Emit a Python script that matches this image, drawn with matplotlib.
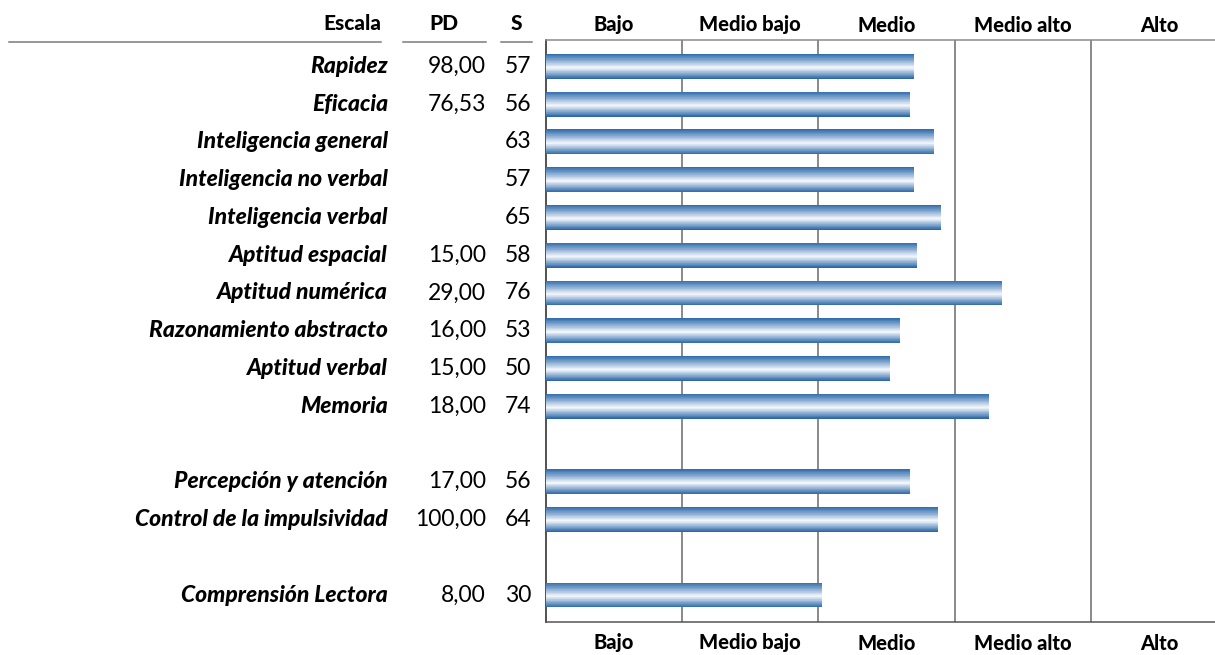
import matplotlib
matplotlib.use("Agg")
import matplotlib.pyplot as plt
import numpy as np
from matplotlib.colors import LinearSegmentedColormap
from matplotlib.lines import Line2D
from matplotlib.transforms import blended_transform_factory

plt.rcParams['font.family'] = ['Lato', 'DejaVu Sans']

# data
escalas = ['Rapidez', 'Eficacia', 'Inteligencia general', 'Inteligencia no verbal',
           'Inteligencia verbal', 'Aptitud espacial', 'Aptitud numérica',
           'Razonamiento abstracto', 'Aptitud verbal', 'Memoria',
           'Percepción y atención', 'Control de la impulsividad', 'Comprensión Lectora']
pd_scores = [98.00, 76.53, None, None, None, 15.00, 29.00, 16.00, 15.00, 18.00,
             17.00, 100.00, 8.00]
s_scores = [57, 56, 63, 57, 65, 58, 76, 53, 50, 74, 56, 64, 30]
gap_after = [9, 11]  # blank row after these items
niveles = ['Bajo', 'Medio bajo', 'Medio', 'Medio alto', 'Alto']
limites = [0, 10, 29, 69, 89, 100]  # S value at each level boundary


def fwd(x):
    return np.interp(x, limites, np.arange(len(limites)))


def inv(p):
    return np.interp(p, np.arange(len(limites)), limites)


def row_positions(n, gaps):
    pos = []
    offset = 0
    for i in range(n):
        pos.append(i + offset)
        if i in gaps:
            offset += 1
    return pos


def gradient_barh(ax, y, width, height, cmap, nstrips=40):
    edges = np.linspace(y - height / 2, y + height / 2, nstrips + 1)
    for k in range(nstrips):
        ax.barh(edges[k], width, height=edges[k + 1] - edges[k], left=0,
                align='edge', color=cmap((k + 0.5) / nstrips), linewidth=0, zorder=3)


def main():
    W, H = 1215, 655
    fig = plt.figure(figsize=(W / 100, H / 100), dpi=100)
    ax = fig.add_axes([546 / W, 1 - 622 / H, (1227 - 546) / W, (622 - 40) / H])

    ys = row_positions(len(escalas), gap_after)
    nrows = ys[-1] + 1

    ax.set_xscale('function', functions=(fwd, inv))
    ax.set_xlim(limites[0], limites[-1])
    ax.set_ylim(nrows - 1 + 0.715, -0.70)

    cmap = LinearSegmentedColormap.from_list(
        'tubo', [(0, '#2f6cab'), (0.25, '#84a8d0'), (0.55, '#f7f9fc'),
                 (0.8, '#81a6ce'), (1, '#2864a2')])
    for y, s in zip(ys, s_scores):
        gradient_barh(ax, y, s, 0.66, cmap)

    for b in limites[1:-1]:
        ax.axvline(b, color='#6a6a6a', linewidth=1.1, zorder=1)

    ax.set_xticks([])
    ax.set_yticks([])
    ax.spines['right'].set_visible(False)
    ax.spines['left'].set_color('#222222')
    ax.spines['bottom'].set_color('#555555')
    ax.spines['top'].set_color('#8a8a8a')
    for sp in ax.spines.values():
        sp.set_linewidth(1.1)

    # level labels above and below the plot
    trans_x = blended_transform_factory(ax.transData, fig.transFigure)
    for i, nivel in enumerate(niveles):
        xc = inv(i + 0.5)
        ax.text(xc, 1 - 25 / H, nivel, transform=trans_x, ha='center', va='center',
                fontsize=14.5, fontweight='black')
        ax.text(xc, 1 - 643 / H, nivel, transform=trans_x, ha='center', va='center',
                fontsize=14.5, fontweight='black')

    # table on the left
    trans_y = blended_transform_factory(fig.transFigure, ax.transData)
    for y, name, pd_v, s in zip(ys, escalas, pd_scores, s_scores):
        ax.text(388 / W, y, name, transform=trans_y, ha='right', va='center',
                fontsize=16.5, fontweight='black', style='italic')
        if pd_v is not None:
            ax.text(486 / W, y, f"{pd_v:.2f}".replace('.', ','), transform=trans_y,
                    ha='right', va='center', fontsize=16.5)
        ax.text(531 / W, y, str(s), transform=trans_y, ha='right', va='center',
                fontsize=16.5)

    hy = 1 - 24 / H
    fig.text(381 / W, hy, 'Escala', ha='right', va='center', fontsize=15, fontweight='black')
    fig.text(444 / W, hy, 'PD', ha='center', va='center', fontsize=15, fontweight='black')
    fig.text(516 / W, hy, 'S', ha='center', va='center', fontsize=15, fontweight='black')
    ly = 1 - 42 / H
    for x0, x1 in [(9, 381), (403, 486), (501, 532)]:
        fig.add_artist(Line2D([x0 / W, x1 / W], [ly, ly], transform=fig.transFigure,
                              color='#7a7a7a', linewidth=1.1))

    fig.savefig('out.png', dpi=100)


if __name__ == '__main__':
    main()
